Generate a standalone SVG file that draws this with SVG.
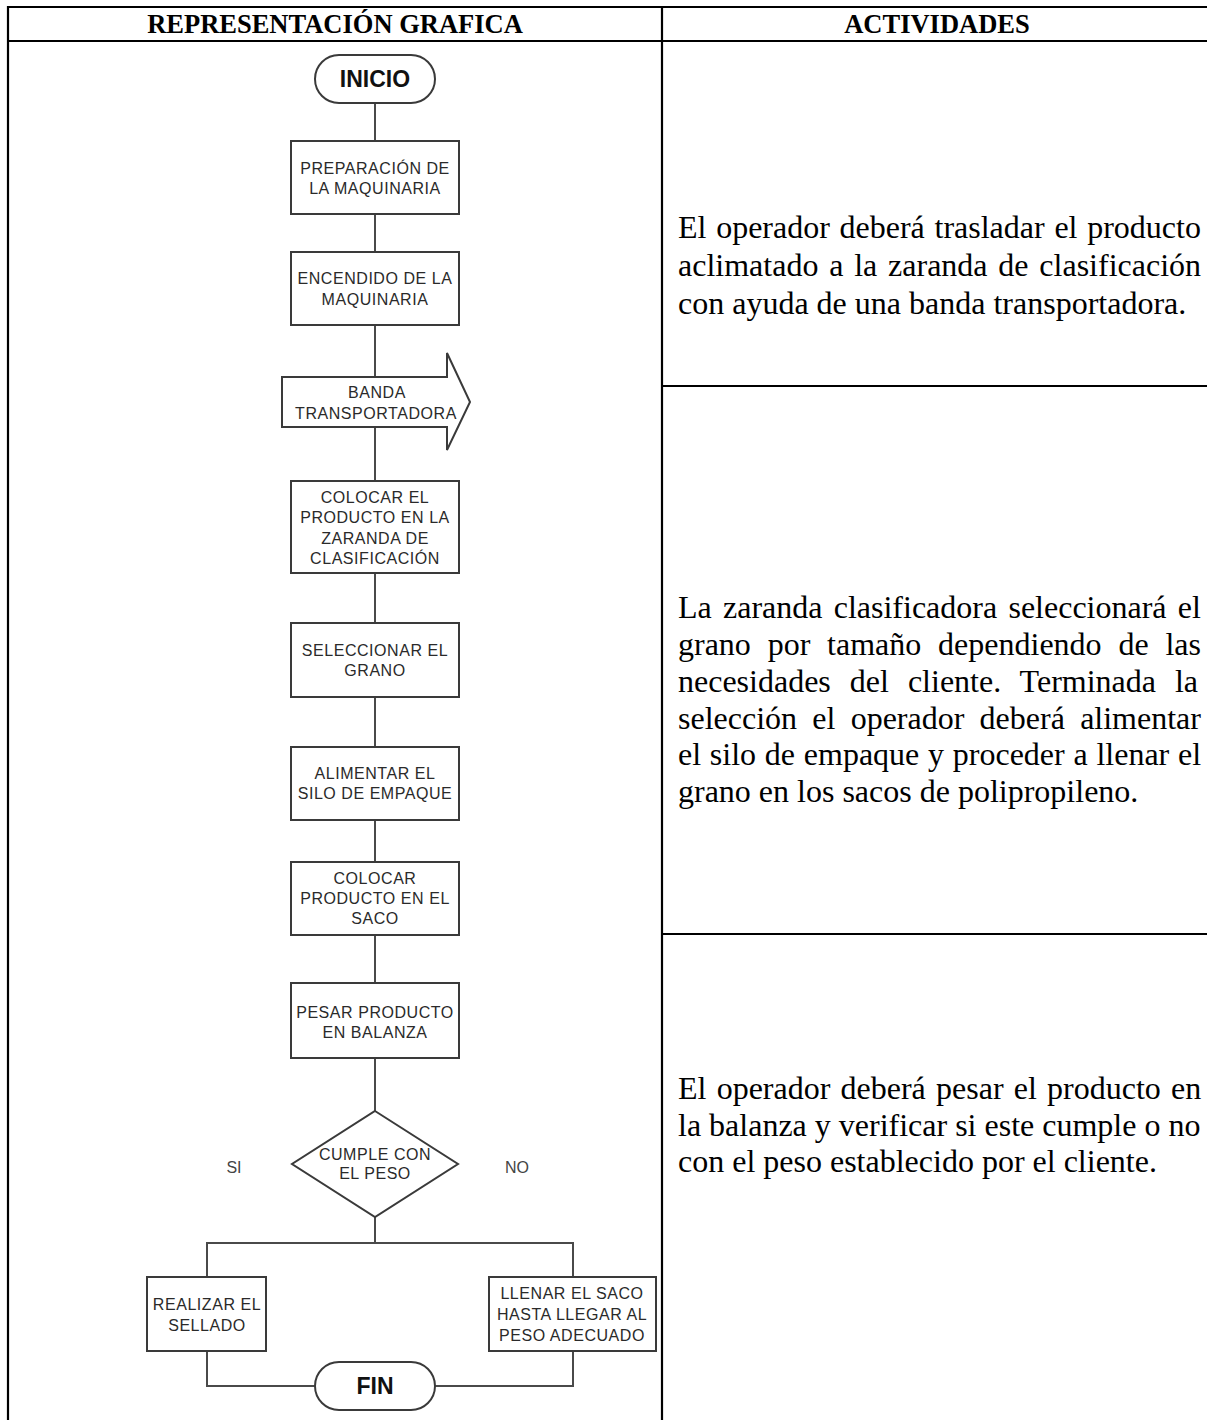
<svg xmlns="http://www.w3.org/2000/svg" width="1207" height="1420" viewBox="0 0 1207 1420">
  <style>
    .grid { stroke: #000; stroke-width: 2.2; fill: none; }
    .hdr { font-family: "Liberation Serif", "Times New Roman", serif; font-weight: bold; font-size: 26.5px; fill: #000; text-anchor: middle; }
    .body { font-family: "Liberation Serif", "Times New Roman", serif; font-size: 32px; fill: #000; }
    .box { fill: #fff; stroke: #3a3a3a; stroke-width: 2; }
    .lbl { font-family: "Liberation Sans", Arial, sans-serif; font-size: 16px; letter-spacing: 0.55px; fill: #2a2a2a; text-anchor: middle; }
    .term { font-family: "Liberation Sans", Arial, sans-serif; font-size: 23px; font-weight: bold; fill: #111; text-anchor: middle; }
    .branch { font-family: "Liberation Sans", Arial, sans-serif; font-size: 16px; fill: #444; text-anchor: middle; }
    .conn { stroke: #4a4a4a; stroke-width: 2; fill: none; }
  </style>
  <rect width="1207" height="1420" fill="#fff"/>

  <!-- table frame -->
  <g id="table">
    <line class="grid" x1="7" y1="7" x2="1207" y2="7"/>
    <line class="grid" x1="7" y1="41" x2="1207" y2="41"/>
    <line class="grid" x1="8" y1="6" x2="8" y2="1420"/>
    <line class="grid" x1="662" y1="6" x2="662" y2="1420"/>
    <line class="grid" x1="662" y1="386" x2="1207" y2="386"/>
    <line class="grid" x1="662" y1="934" x2="1207" y2="934"/>
    <text class="hdr" x="335" y="33">REPRESENTACIÓN GRAFICA</text>
    <text class="hdr" x="937" y="33">ACTIVIDADES</text>
  </g>

  <!-- connectors -->
  <g id="connectors">
    <line class="conn" x1="375" y1="103" x2="375" y2="141"/>
    <line class="conn" x1="375" y1="214" x2="375" y2="252"/>
    <line class="conn" x1="375" y1="325" x2="375" y2="377"/>
    <line class="conn" x1="375" y1="427" x2="375" y2="481"/>
    <line class="conn" x1="375" y1="573" x2="375" y2="623"/>
    <line class="conn" x1="375" y1="697" x2="375" y2="747"/>
    <line class="conn" x1="375" y1="820" x2="375" y2="862"/>
    <line class="conn" x1="375" y1="935" x2="375" y2="983"/>
    <line class="conn" x1="375" y1="1058" x2="375" y2="1111"/>
    <line class="conn" x1="375" y1="1217" x2="375" y2="1243"/>
    <polyline class="conn" points="207,1277 207,1243 573,1243 573,1277"/>
    <polyline class="conn" points="207,1351 207,1386 315,1386"/>
    <polyline class="conn" points="573,1351 573,1386 435,1386"/>
  </g>

  <g id="inicio">
    <rect class="box" x="315" y="55" width="120" height="48" rx="24"/>
    <text class="term" x="375" y="87">INICIO</text>
  </g>

  <g id="preparacion">
    <rect class="box" x="291" y="141" width="168" height="73"/>
    <text class="lbl" x="375" y="173.5">PREPARACIÓN DE</text>
    <text class="lbl" x="375" y="194">LA MAQUINARIA</text>
  </g>

  <g id="encendido">
    <rect class="box" x="291" y="252" width="168" height="73"/>
    <text class="lbl" x="375" y="284">ENCENDIDO DE LA</text>
    <text class="lbl" x="375" y="305">MAQUINARIA</text>
  </g>

  <g id="banda">
    <polygon class="box" points="282,377 447,377 447,353 470,402 447,450 447,427 282,427"/>
    <text class="lbl" x="377" y="397.5">BANDA</text>
    <text class="lbl" x="376" y="419">TRANSPORTADORA</text>
  </g>

  <g id="colocar-zaranda">
    <rect class="box" x="291" y="481" width="168" height="92"/>
    <text class="lbl" x="375" y="502.5">COLOCAR EL</text>
    <text class="lbl" x="375" y="522.5">PRODUCTO EN LA</text>
    <text class="lbl" x="375" y="544">ZARANDA DE</text>
    <text class="lbl" x="375" y="564">CLASIFICACIÓN</text>
  </g>

  <g id="seleccionar">
    <rect class="box" x="291" y="623" width="168" height="74"/>
    <text class="lbl" x="375" y="656">SELECCIONAR EL</text>
    <text class="lbl" x="375" y="676">GRANO</text>
  </g>

  <g id="alimentar">
    <rect class="box" x="291" y="747" width="168" height="73"/>
    <text class="lbl" x="375" y="778.5">ALIMENTAR EL</text>
    <text class="lbl" x="375" y="798.5">SILO DE EMPAQUE</text>
  </g>

  <g id="colocar-saco">
    <rect class="box" x="291" y="862" width="168" height="73"/>
    <text class="lbl" x="375" y="883.5">COLOCAR</text>
    <text class="lbl" x="375" y="903.5">PRODUCTO EN EL</text>
    <text class="lbl" x="375" y="923.5">SACO</text>
  </g>

  <g id="pesar">
    <rect class="box" x="291" y="983" width="168" height="75"/>
    <text class="lbl" x="375" y="1017.5">PESAR PRODUCTO</text>
    <text class="lbl" x="375" y="1037.5">EN BALANZA</text>
  </g>

  <g id="decision">
    <polygon class="box" points="375,1111 458,1164 375,1217 292,1164"/>
    <text class="lbl" x="375" y="1160">CUMPLE CON</text>
    <text class="lbl" x="375" y="1179">EL PESO</text>
    <text class="branch" x="234" y="1173">SI</text>
    <text class="branch" x="517" y="1173">NO</text>
  </g>

  <g id="sellado">
    <rect class="box" x="147" y="1277" width="119" height="74"/>
    <text class="lbl" x="207" y="1310">REALIZAR EL</text>
    <text class="lbl" x="207" y="1331">SELLADO</text>
  </g>

  <g id="llenar">
    <rect class="box" x="489" y="1277" width="167" height="74"/>
    <text class="lbl" x="572" y="1299">LLENAR EL SACO</text>
    <text class="lbl" x="572" y="1320">HASTA LLEGAR AL</text>
    <text class="lbl" x="572" y="1341">PESO ADECUADO</text>
  </g>

  <g id="fin">
    <rect class="box" x="315" y="1362" width="120" height="48" rx="24"/>
    <text class="term" x="375" y="1394">FIN</text>
  </g>

  <!-- activity descriptions, justified lines widened through word spacing -->
  <g id="actividades">
    <text class="body" x="678" y="238" word-spacing="1.7">El operador deberá trasladar el producto</text>
    <text class="body" x="678" y="276" word-spacing="2.8">aclimatado a la zaranda de clasificación</text>
    <text class="body" x="678" y="314">con ayuda de una banda transportadora.</text>

    <text class="body" x="678" y="618" word-spacing="3.25">La zaranda clasificadora seleccionará el</text>
    <text class="body" x="678" y="655" word-spacing="8.8">grano por tamaño dependiendo de las</text>
    <text class="body" x="678" y="692" word-spacing="11">necesidades del cliente. Terminada la</text>
    <text class="body" x="678" y="729" word-spacing="7.25">selección el operador deberá alimentar</text>
    <text class="body" x="678" y="765" word-spacing="0.75">el silo de empaque y proceder a llenar el</text>
    <text class="body" x="678" y="802">grano en los sacos de polipropileno.</text>

    <text class="body" x="678" y="1099" word-spacing="2.2">El operador deberá pesar el producto en</text>
    <text class="body" x="678" y="1136">la balanza y verificar si este cumple o no</text>
    <text class="body" x="678" y="1172">con el peso establecido por el cliente.</text>
  </g>
</svg>
